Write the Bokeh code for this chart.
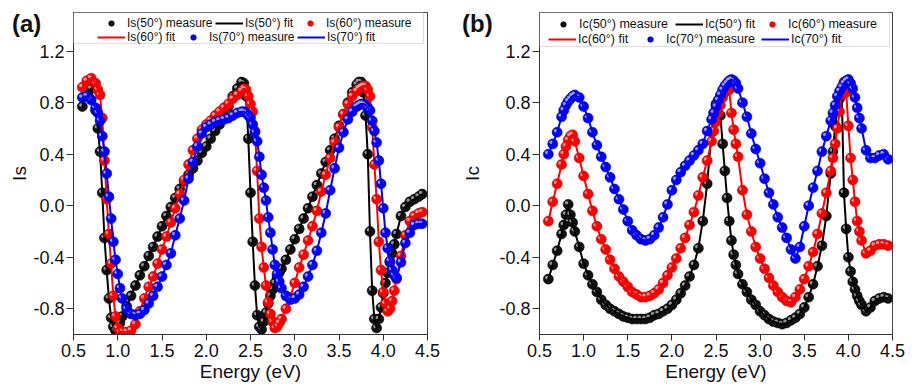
import numpy as np
from bokeh.plotting import figure
from bokeh.models import (Legend, LegendItem, FixedTicker, PrintfTickFormatter,
                          BoxAnnotation, Range1d, Div, GridBox)
from bokeh.embed import file_html
from bokeh.resources import INLINE

# ---------------- panel (a): Is ----------------
energy_a = [0.60, 0.65, 0.70, 0.75,
            0.775, 0.80, 0.825, 0.85, 0.875, 0.90, 0.925, 0.95, 0.975, 1.00, 1.025, 1.05,
            1.10, 1.15, 1.20, 1.25, 1.30, 1.35, 1.40, 1.45, 1.50, 1.55, 1.60, 1.65, 1.70, 1.75,
            1.80, 1.85, 1.90, 1.95, 2.00, 2.05, 2.10, 2.15, 2.20, 2.25, 2.30, 2.35, 2.40,
            2.425, 2.45, 2.475, 2.50, 2.525, 2.55, 2.575, 2.60, 2.625, 2.65, 2.675, 2.70,
            2.725, 2.75, 2.775, 2.80, 2.825, 2.85,
            2.90, 2.95, 3.00, 3.05, 3.10, 3.15, 3.20, 3.25, 3.30, 3.35, 3.40, 3.45, 3.50,
            3.55, 3.60, 3.65, 3.70,
            3.725, 3.75, 3.775, 3.80, 3.825, 3.85, 3.875, 3.90, 3.925, 3.95, 3.975, 4.00,
            4.025, 4.05, 4.075, 4.10, 4.125, 4.15,
            4.20, 4.25, 4.30, 4.35, 4.40, 4.44]

is50 = [0.77, 0.86, 0.91, 0.74,
        0.60, 0.42, 0.10, -0.25, -0.50, -0.72, -0.87, -0.94, -0.97, -0.96, -0.91, -0.86,
        -0.78, -0.70, -0.62, -0.54, -0.47, -0.39, -0.32, -0.24, -0.16, -0.08, -0.01, 0.06, 0.13, 0.19,
        0.24, 0.29, 0.35, 0.41, 0.46, 0.52, 0.58, 0.63, 0.70, 0.77, 0.85, 0.91, 0.96,
        0.95, 0.85, 0.52, 0.10, -0.28, -0.62, -0.85, -0.94, -0.96, -0.90, -0.83, -0.76,
        -0.70, -0.65, -0.60, -0.56, -0.52, -0.49,
        -0.42, -0.34, -0.26, -0.18, -0.10, -0.02, 0.07, 0.16, 0.25, 0.34, 0.43, 0.52, 0.62,
        0.71, 0.80, 0.88, 0.94,
        0.96, 0.96, 0.88, 0.70, 0.40, -0.20, -0.66, -0.88, -0.95, -0.88, -0.79, -0.68,
        -0.60, -0.52, -0.44, -0.37, -0.30, -0.22,
        -0.08, -0.01, 0.03, 0.05, 0.07, 0.09]

is60 = [0.92, 0.97, 0.99, 0.95,
        0.90, 0.86, 0.68, 0.35, 0.05, -0.22, -0.45, -0.70, -0.86, -0.95, -0.98, -0.98,
        -0.98, -0.97, -0.92, -0.82, -0.72, -0.63, -0.55, -0.45, -0.34, -0.24, -0.13, -0.02, 0.09, 0.20,
        0.32, 0.43, 0.52, 0.59, 0.63, 0.66, 0.70, 0.73, 0.76, 0.79, 0.83, 0.86, 0.89,
        0.91, 0.90, 0.85, 0.79, 0.73, 0.58, 0.27, -0.10, -0.32, -0.48, -0.62, -0.75,
        -0.84, -0.90, -0.95, -0.94, -0.91, -0.88,
        -0.80, -0.71, -0.60, -0.48, -0.38, -0.27, -0.16, -0.04, 0.11, 0.24, 0.37, 0.49, 0.61,
        0.71, 0.79, 0.85, 0.89,
        0.91, 0.92, 0.93, 0.93, 0.90, 0.85, 0.61, 0.32, 0.05, -0.28, -0.50, -0.67,
        -0.76, -0.82, -0.80, -0.74, -0.66, -0.57,
        -0.39, -0.23, -0.12, -0.08, -0.06, -0.05]

is70 = [0.84, 0.85, 0.82, 0.76,
        0.72, 0.66, 0.54, 0.42, 0.25, 0.07, -0.10, -0.28, -0.42, -0.53, -0.64, -0.72,
        -0.80, -0.84, -0.85, -0.84, -0.81, -0.76, -0.70, -0.63, -0.55, -0.46, -0.37, -0.23, -0.10, 0.04,
        0.21, 0.34, 0.46, 0.56, 0.61, 0.63, 0.65, 0.66, 0.67, 0.68, 0.70, 0.72, 0.73,
        0.73, 0.72, 0.70, 0.68, 0.63, 0.57, 0.50, 0.38, 0.24, 0.14, 0.04, -0.09,
        -0.21, -0.34, -0.46, -0.53, -0.59, -0.64,
        -0.70, -0.73, -0.72, -0.69, -0.63, -0.55, -0.46, -0.35, -0.21, -0.06, 0.12, 0.29, 0.45,
        0.57, 0.67, 0.73, 0.77,
        0.78, 0.79, 0.79, 0.78, 0.76, 0.74, 0.66, 0.58, 0.49, 0.35, 0.17, -0.02,
        -0.21, -0.33, -0.43, -0.50, -0.54, -0.56,
        -0.44, -0.29, -0.21, -0.15, -0.14, -0.14]

# ---------------- panel (b): Ic ----------------
energy_b = [0.60, 0.65, 0.70, 0.75, 0.775, 0.80, 0.825, 0.85, 0.875, 0.90,
            0.95, 1.00, 1.05, 1.10, 1.15, 1.20, 1.25, 1.30, 1.35, 1.40, 1.45, 1.50, 1.55, 1.60,
            1.65, 1.70, 1.75, 1.80, 1.85, 1.90, 1.95, 2.00, 2.05, 2.10, 2.15, 2.20, 2.25, 2.30,
            2.35, 2.40, 2.45,
            2.475, 2.50, 2.525, 2.55, 2.575, 2.60, 2.625, 2.65, 2.675, 2.70, 2.725, 2.75,
            2.80, 2.85, 2.90, 2.95, 3.00, 3.05, 3.10, 3.15, 3.20, 3.25, 3.30, 3.35, 3.40, 3.45,
            3.50, 3.55, 3.60, 3.65, 3.70, 3.75, 3.80,
            3.825, 3.85, 3.875, 3.90, 3.925, 3.95, 3.975, 4.00, 4.025, 4.05, 4.075, 4.10, 4.125, 4.15,
            4.20, 4.25, 4.30, 4.35, 4.40, 4.45]

ic50 = [-0.57, -0.46, -0.35, -0.22, -0.15, -0.07, 0.01, -0.07, -0.13, -0.20,
        -0.32, -0.45, -0.54, -0.61, -0.67, -0.73, -0.77, -0.80, -0.82, -0.84, -0.86, -0.87, -0.88, -0.88,
        -0.88, -0.88, -0.87, -0.85, -0.84, -0.82, -0.80, -0.77, -0.73, -0.68, -0.62, -0.55, -0.46, -0.33,
        -0.12, 0.17, 0.57,
        0.72, 0.79, 0.81, 0.70, 0.48, 0.27, 0.06, -0.12, -0.27, -0.38, -0.46, -0.53,
        -0.61, -0.67, -0.73, -0.77, -0.82, -0.85, -0.88, -0.90, -0.91, -0.92, -0.91, -0.89, -0.87, -0.84,
        -0.79, -0.71, -0.61, -0.47, -0.31, -0.08, 0.25,
        0.42, 0.62, 0.74, 0.83, 0.87, 0.10, -0.18, -0.40, -0.51, -0.59, -0.65, -0.70, -0.74, -0.77,
        -0.82, -0.79, -0.74, -0.72, -0.71, -0.72]

ic60 = [-0.12, 0.03, 0.17, 0.32, 0.40, 0.46, 0.51, 0.54, 0.55, 0.50,
        0.37, 0.23, 0.09, -0.04, -0.16, -0.26, -0.34, -0.42, -0.49, -0.55, -0.59, -0.63, -0.67, -0.69,
        -0.71, -0.71, -0.70, -0.68, -0.65, -0.60, -0.54, -0.48, -0.41, -0.33, -0.25, -0.15, -0.05, 0.08,
        0.22, 0.35, 0.50,
        0.58, 0.65, 0.72, 0.78, 0.84, 0.88, 0.92, 0.90, 0.72, 0.59, 0.48, 0.38,
        0.12, -0.07, -0.20, -0.32, -0.41, -0.49, -0.56, -0.62, -0.67, -0.71, -0.74, -0.75, -0.71, -0.65,
        -0.57, -0.47, -0.36, -0.22, -0.06, 0.10, 0.27,
        0.37, 0.48, 0.60, 0.73, 0.86, 0.96, 0.88, 0.62, 0.37, 0.20, 0.03, -0.12, -0.20, -0.27,
        -0.37, -0.35, -0.31, -0.30, -0.30, -0.31]

ic70 = [0.40, 0.48, 0.57, 0.69, 0.74, 0.78, 0.81, 0.83, 0.85, 0.86,
        0.84, 0.77, 0.68, 0.57, 0.47, 0.38, 0.30, 0.22, 0.13, 0.05, -0.03, -0.12, -0.19, -0.23,
        -0.26, -0.27, -0.26, -0.23, -0.17, -0.09, 0.01, 0.12, 0.20, 0.26, 0.31, 0.35, 0.39, 0.43,
        0.48, 0.58, 0.67,
        0.72, 0.77, 0.82, 0.86, 0.90, 0.93, 0.95, 0.97, 0.98, 0.97, 0.95, 0.91,
        0.80, 0.69, 0.56, 0.44, 0.33, 0.21, 0.10, 0.01, -0.09, -0.17, -0.25, -0.34, -0.41, -0.32,
        -0.16, 0.00, 0.14, 0.27, 0.42, 0.54, 0.66,
        0.72, 0.78, 0.85, 0.89, 0.92, 0.95, 0.97, 0.98, 0.95, 0.91, 0.84, 0.76, 0.68, 0.60,
        0.43, 0.37, 0.37, 0.39, 0.40, 0.36]

x_ticks = [0.5, 1.0, 1.5, 2.0, 2.5, 3.0, 3.5, 4.0, 4.5]
y_ticks = [-0.8, -0.4, 0.0, 0.4, 0.8, 1.2]

angles = ["50°", "60°", "70°"]
COLORS = {
    "50°": ("#111111", "#000000", "#a0a0a0", "#000000"),
    "60°": ("#ff0000", "#c00000", "#ffa8a8", "#ff0000"),
    "70°": ("#0000ff", "#0000b0", "#a8a8ff", "#0000ff"),
}

X0, X1, Y0, Y1 = 0.5, 4.5, -1.0, 1.5
FONT = "Liberation Sans"


def make_panel(energy, series, name, frame_w, left_border, right_border,
               ylabel_standoff, leg_pos, leg_font, box_bottom):
    for s in series:
        assert len(s) == len(energy)
    p = figure(width=left_border + frame_w + right_border,
               height=388, output_backend="svg", toolbar_location=None,
               x_range=Range1d(X0, X1), y_range=Range1d(Y0, Y1),
               min_border_left=left_border, min_border_right=right_border,
               min_border_top=12, min_border_bottom=54)
    p.xgrid.visible = False
    p.ygrid.visible = False
    p.outline_line_color = "#444444"
    p.outline_line_width = 1
    p.background_fill_color = "white"

    fh = 322.0
    dx = -1.6 * (X1 - X0) / frame_w
    dy = 1.6 * (Y1 - Y0) / fh

    ball_r = {}
    line_r = {}
    for ang, vals in zip(angles, series):
        fill, edge, hi, lc = COLORS[ang]
        e = np.array(energy)
        v = np.array(vals)
        c = p.scatter(e, v, marker="circle", size=10, fill_color=fill,
                      line_color=edge, line_width=0.6)
        p.scatter(e + dx, v + dy, marker="circle", size=3.5, fill_color=hi,
                  line_color=None, fill_alpha=0.9)
        l = p.line(e, v, line_color=lc, line_width=2)
        ball_r[ang] = c
        line_r[ang] = l

    for ax in (p.xaxis[0], p.yaxis[0]):
        ax.axis_line_color = "#333333"
        ax.major_tick_line_color = "#333333"
        ax.major_tick_in = 0
        ax.minor_tick_out = 0
        ax.minor_tick_in = 0
        ax.major_label_text_font = FONT
        ax.major_label_text_font_size = "18px"
        ax.major_label_text_color = "#111111"
        ax.axis_label_text_font = FONT
        ax.axis_label_text_font_size = "19px"
        ax.axis_label_text_font_style = "normal"
        ax.axis_label_text_color = "#111111"
        ax.formatter = PrintfTickFormatter(format="%.1f")

    p.xaxis.ticker = FixedTicker(ticks=x_ticks)
    p.yaxis.ticker = FixedTicker(ticks=y_ticks)
    p.xaxis.major_tick_out = 6
    p.yaxis.major_tick_out = 7
    p.xaxis.major_label_standoff = 3
    p.yaxis.major_label_standoff = 2
    p.xaxis.axis_label = "Energy (eV)"
    p.xaxis.axis_label_standoff = 1
    p.yaxis.axis_label = name
    p.yaxis.axis_label_standoff = ylabel_standoff

    box = BoxAnnotation(left=X0, right=X0 + 350 * (X1 - X0) / frame_w, bottom=box_bottom, top=Y1,
                        fill_color="white", fill_alpha=1.0,
                        line_color="#8a8a8a", line_width=1)
    p.add_layout(box)

    items = [(f"{name}(50°) measure", ball_r["50°"]),
             (f"{name}(50°) fit", line_r["50°"]),
             (f"{name}(60°) measure", ball_r["60°"]),
             (f"{name}(60°) fit", line_r["60°"]),
             (f"{name}(70°) measure", ball_r["70°"]),
             (f"{name}(70°) fit", line_r["70°"])]
    for (lab, rend), loc in zip(items, leg_pos):
        leg = Legend(items=[LegendItem(label=lab, renderers=[rend])], location=loc,
                     orientation="horizontal",
                     glyph_width=28, glyph_height=14, label_height=12,
                     label_standoff=2, spacing=0, padding=0, margin=0,
                     border_line_alpha=0, background_fill_alpha=0,
                     label_text_font=FONT, label_text_font_size=leg_font,
                     label_text_color="#111111")
        p.add_layout(leg)
    return p


def panel_tag(text, left):
    return Div(text=text, width=44, height=30, align="start",
               margin=(12, 0, 0, left),
               styles={"font-family": "Liberation Sans", "font-size": "24px",
                       "font-weight": "bold", "color": "#111111", "line-height": "1"})


# legend item positions (screen px from the frame's bottom-left corner)
leg_pos_a = [(24, 304), (142, 304), (223, 304), (24, 290), (106, 290), (224, 290)]
leg_pos_b = [(10, 303), (136, 303), (219, 303), (9, 288), (97, 288), (222, 288)]

pa = make_panel(energy_a, [is50, is60, is70], "Is", 354, 73, 31, 0,
                leg_pos_a, "12px", 1.26)
pb = make_panel(energy_b, [ic50, ic60, ic70], "Ic", 353, 81, 24, 13,
                leg_pos_b, "12.5px", 1.235)

layout = GridBox(children=[(pa, 0, 0), (panel_tag("(a)", 12), 0, 0),
                           (pb, 0, 1), (panel_tag("(b)", 4), 0, 1)])
open("out.html", "w").write(file_html(layout, INLINE))
